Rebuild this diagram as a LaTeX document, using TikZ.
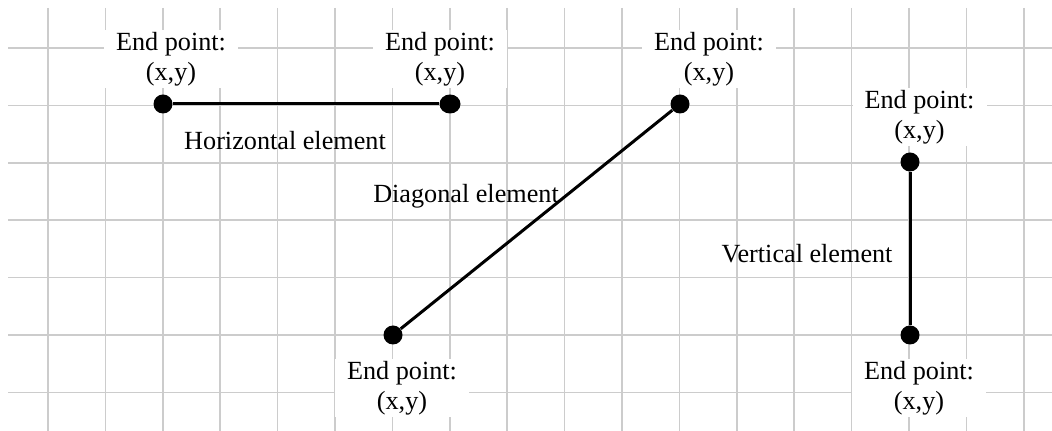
\documentclass[tikz,border=0pt]{standalone}
\usepackage{fontspec}
\setmainfont{Liberation Serif}
\usetikzlibrary{shapes.geometric}
\begin{document}
\begin{tikzpicture}[x=0.5pt,y=-0.5pt,
  gridline/.style={draw=black!20, line width=0.75pt},
  txt/.style={font=\fontsize{13.1pt}{15pt}\selectfont},
  endlabel/.style={txt, fill=white, align=center, minimum width=67pt, minimum height=29pt, inner sep=0pt},
  elemlabel/.style={txt, anchor=base, inner sep=0pt},
  dot/.style={circle, fill=black, inner sep=0pt, minimum size=9.5pt},
  seg/.style={line width=1.5pt}]
\useasboundingbox (0,0) rectangle (1052,431);
% grid
\foreach \i in {0,...,17} \draw[gridline] ({48+57.4*\i},8) -- ({48+57.4*\i},431);
\foreach \j in {0,...,6} \draw[gridline] (8,{48+57.4*\j}) -- (1052,{48+57.4*\j});
% end point labels
\node[endlabel] (lab1) at (171,59) {End point:\\(x,y)};
\node[endlabel] (lab2) at (440,59) {End point:\\(x,y)};
\node[endlabel] (lab3) at (709,59) {End point:\\(x,y)};
\node[endlabel] (lab4) at (919.5,117) {End point:\\(x,y)};
\node[endlabel] (lab5) at (402,388) {End point:\\(x,y)};
\node[endlabel] (lab6) at (919,388) {End point:\\(x,y)};
% dots
\node[dot] (h1) at (163,104) {};
\node[dot, ellipse, minimum width=10.5pt, minimum height=9.5pt] (h2) at (450,104) {};
\node[dot] (d1) at (680,104) {};
\node[dot] (d2) at (393,335) {};
\node[dot] (v1) at (910,162) {};
\node[dot] (v2) at (910,335) {};
% elements
\draw[seg] (h1) -- (h2);
\draw[seg] (d1) -- (d2);
\draw[seg] (v1) -- (v2);
% element labels
\node[elemlabel] (hl) at (285,150) {Horizontal element};
\node[elemlabel] (dl) at (466,203) {Diagonal element};
\node[elemlabel] (vl) at (807,263) {Vertical element};
\end{tikzpicture}
\end{document}
